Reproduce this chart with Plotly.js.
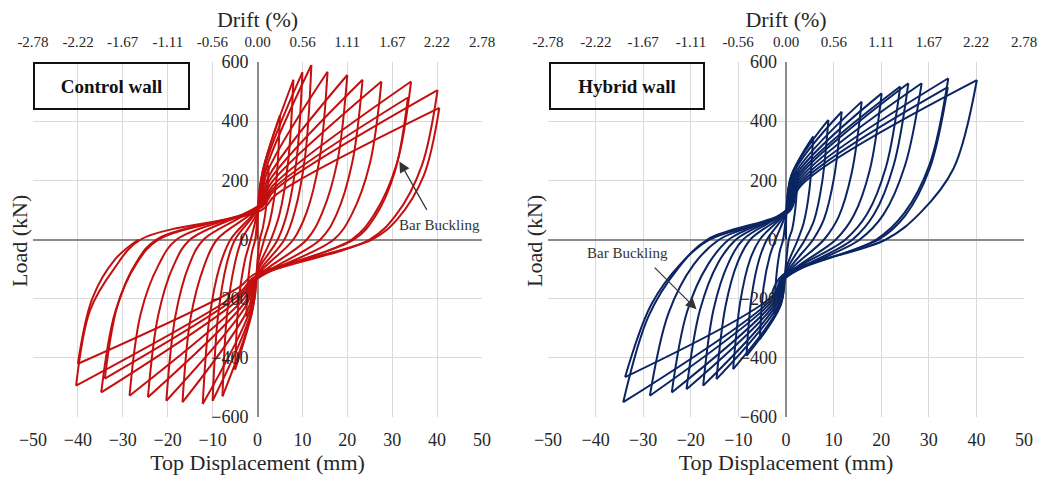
<!DOCTYPE html>
<html><head><meta charset="utf-8">
<script src="https://cdn.plot.ly/plotly-3.0.1.min.js"></script>
<style>html,body{margin:0;padding:0;background:#fff}</style>
</head><body><div id="chart" style="width:1041px;height:478px"></div>
<script>
// ---------- tick labels ----------
const dispTicks = [-50,-40,-30,-20,-10,0,10,20,30,40,50];
const driftTicks = [-2.78,-2.22,-1.67,-1.11,-0.56,0,0.56,1.11,1.67,2.22,2.78];
const driftLabels = ['-2.78','-2.22','-1.67','-1.11','-0.56','0.00','0.56','1.11','1.67','2.22','2.78'];
const loadTicks = [-600,-400,-200,0,200,400,600];

// ---------- Control wall: key points of each cycle [disp (mm), load (kN)] ----------
const ctrlPosPeak = [[2.5,250],[5,420],[8,540],[10,565],[12,590],[15.6,567],[20,556],[23.4,540],[27.6,534],[34.2,534],[33.5,480],[40.1,505],[40.5,445]];
const ctrlPosUnloadA = [[2.0,120],[4.2,200],[6.8,260],[8.7,270],[10.6,280],[13.8,270],[17.8,265],[21.1,260],[25,255],[31,255],[30.6,230],[36.6,250],[37,215]];
const ctrlPosUnloadB = [[1.2,40],[2.8,65],[4.9,85],[6.6,90],[8.3,95],[10.9,90],[14.4,90],[17.6,85],[21,85],[26,85],[26.1,75],[30.9,84],[31.2,70]];
const ctrlPosZero = [0.5,1.5,3,4.5,6,8,11,14,17,21,21.5,25,25.5];
const ctrlNegPeak = [[-2.5,-260],[-5,-440],[-7.8,-530],[-10,-545],[-12.2,-556],[-16.7,-550],[-20.3,-545],[-24.4,-533],[-28.5,-528],[-34.8,-517],[-34,-470],[-40.4,-494],[-40,-420]];
const ctrlNegUnloadA = [[-2.0,-125],[-4.2,-210],[-6.8,-255],[-8.8,-260],[-10.7,-265],[-14.9,-265],[-18.3,-260],[-22.1,-255],[-26,-250],[-31.7,-245],[-31.2,-225],[-37.3,-240],[-36.8,-200]];
const ctrlNegUnloadB = [[-1.2,-40],[-2.8,-70],[-5.1,-85],[-6.9,-85],[-8.4,-90],[-11.9,-90],[-15.2,-85],[-18.6,-85],[-22,-85],[-26.9,-80],[-26.9,-75],[-32,-100],[-31.6,-65]];
const ctrlNegZero = [-0.5,-1.5,-3.5,-5,-6,-9,-12,-15,-18,-22,-22.5,-26,-26.5];
const ctrlPinchPos = [[0,60],[0,80],[0,95],[0.2,100],[0.3,110],[0.4,115],[0.5,115],[0.6,120],[0.7,120],[0.8,115],[0.8,110],[1,110],[1,100]];
const ctrlPinchNeg = [[0,-70],[0,-90],[0,-105],[-0.2,-115],[-0.3,-125],[-0.4,-130],[-0.5,-135],[-0.6,-140],[-0.7,-140],[-0.8,-135],[-0.8,-130],[-1,-130],[-1,-120]];
const ctrlKneePos = [[0.8,200],[1,220],[1.3,240],[1.5,240],[1.8,235],[2.1,225],[2.4,210],[2.7,200],[3,190],[3.3,180],[3.4,170],[3.7,165],[4,150]];
const ctrlKneeNeg = [[-0.8,-210],[-1,-230],[-1.3,-250],[-1.5,-250],[-1.8,-245],[-2.1,-235],[-2.4,-220],[-2.7,-210],[-3,-200],[-3.3,-190],[-3.4,-180],[-3.7,-175],[-4,-160]];

// ---------- Hybrid wall ----------
const hybPosPeak = [[2.5,230],[5.7,348],[8.9,404],[11.7,432],[15.9,466],[20.1,494],[24,517],[25.7,528],[28.5,528],[34.1,545],[34,515],[40.1,539]];
const hybPosUnloadA = [[2.0,110],[4.9,165],[7.6,195],[10.1,210],[13.8,225],[17.6,235],[21,245],[22.6,250],[25,250],[30.2,255],[30.2,240],[35.2,240]];
const hybPosUnloadB = [[1.3,35],[3.7,55],[5.9,65],[8,70],[11,75],[14.2,80],[17,85],[18.5,85],[20.5,85],[24.8,88],[25,80],[28.2,90]];
const hybPosZero = [0.6,2.5,4,5.7,8,10.5,12.5,14,15.5,19,19.5,21];
const hybNegPeak = [[-2.5,-250],[-5.5,-337],[-8.3,-393],[-11.1,-438],[-14.6,-472],[-17.4,-494],[-20.9,-506],[-24,-517],[-28.6,-528],[-34.2,-550],[-33.8,-465]];
const hybNegUnloadA = [[-2.0,-120],[-4.7,-160],[-7.2,-190],[-9.6,-210],[-12.7,-225],[-15.2,-235],[-18.1,-240],[-20.8,-245],[-24.7,-250],[-28.9,-260],[-28.3,-220]];
const hybNegUnloadB = [[-1.3,-40],[-3.4,-55],[-5.6,-65],[-7.6,-70],[-10.1,-75],[-12.1,-80],[-14.3,-80],[-16.4,-85],[-19.4,-85],[-22.8,-100],[-22,-80]];
const hybNegZero = [-0.6,-2.2,-4,-5.5,-7.5,-9,-10.5,-12,-14,-16.5,-16];
const hybPinchPos = [[0,60],[0,80],[0,90],[0.1,95],[0.2,100],[0.3,100],[0.4,105],[0.4,105],[0.5,105],[0.6,100],[0.6,100],[0.7,95]];
const hybPinchNeg = [[0,-80],[0,-100],[0,-110],[-0.1,-120],[-0.2,-125],[-0.3,-130],[-0.4,-130],[-0.4,-135],[-0.5,-135],[-0.6,-130],[-0.6,-125],[-0.7,-120]];
const hybKneePos = [[0.8,190],[1,210],[1.2,220],[1.4,220],[1.6,215],[1.8,210],[2,205],[2.2,200],[2.4,195],[2.6,190],[2.8,185],[3,180]];
const hybKneeNeg = [[-0.8,-200],[-1,-215],[-1.2,-225],[-1.4,-225],[-1.6,-220],[-1.8,-215],[-2,-210],[-2.2,-205],[-2.4,-200],[-2.6,-195],[-2.8,-190],[-3,-185]];

// ---------- build hysteresis path (segments split at peaks) ----------
function buildPath(d) {
  const xs = [], ys = [];
  const seg = pts => { pts.forEach(p => { xs.push(p[0]); ys.push(p[1]); }); xs.push(null); ys.push(null); };
  const n = d.posPeak.length;
  for (let i = 0; i < n; i++) {
    if (i === 0) seg([[0,0], d.kneePos[0], d.posPeak[0]]);
    else seg([d.negPeak[i-1], d.negUA[i-1], d.negUB[i-1], [d.negZero[i-1],0], d.pinchPos[i], d.kneePos[i], d.posPeak[i]]);
    const b = [d.posPeak[i], d.posUA[i], d.posUB[i], [d.posZero[i],0], d.pinchNeg[i], d.kneeNeg[i]];
    if (i < d.negPeak.length) b.push(d.negPeak[i]);
    seg(b);
  }
  if (d.negPeak.length === n) {
    const k = n - 1;
    seg([d.negPeak[k], d.negUA[k], d.negUB[k], [d.negZero[k],0]]);
  }
  return {x: xs, y: ys};
}

const ctrl = buildPath({posPeak: ctrlPosPeak, posUA: ctrlPosUnloadA, posUB: ctrlPosUnloadB, posZero: ctrlPosZero,
  negPeak: ctrlNegPeak, negUA: ctrlNegUnloadA, negUB: ctrlNegUnloadB, negZero: ctrlNegZero,
  pinchPos: ctrlPinchPos, pinchNeg: ctrlPinchNeg, kneePos: ctrlKneePos, kneeNeg: ctrlKneeNeg});
const hyb = buildPath({posPeak: hybPosPeak, posUA: hybPosUnloadA, posUB: hybPosUnloadB, posZero: hybPosZero,
  negPeak: hybNegPeak, negUA: hybNegUnloadA, negUB: hybNegUnloadB, negZero: hybNegZero,
  pinchPos: hybPinchPos, pinchNeg: hybPinchNeg, kneePos: hybKneePos, kneeNeg: hybKneeNeg});

const W = 1041, H = 478;
const FONT = 'Liberation Serif, Times New Roman, serif';
const TXT = '#262626';
const domL = [33/W, 482/W], domR = [548/W, 1024/W];
const domY = [1 - 417/H, 1 - 62/H];
const midPos = dom => dom[0] + 0.5*(dom[1]-dom[0]);

const traces = [
  {type:'scatter', mode:'lines', x: ctrl.x, y: ctrl.y, xaxis:'x', yaxis:'y', connectgaps:false,
   line:{color:'#C40F0F', width:2, shape:'spline', smoothing:1}, hoverinfo:'skip', showlegend:false},
  {type:'scatter', mode:'lines', x: hyb.x, y: hyb.y, xaxis:'x3', yaxis:'y2', connectgaps:false,
   line:{color:'#0B2463', width:2, shape:'spline', smoothing:1}, hoverinfo:'skip', showlegend:false},
  {type:'scatter', mode:'lines', x:[], y:[], xaxis:'x2', yaxis:'y', showlegend:false, hoverinfo:'skip'},
  {type:'scatter', mode:'lines', x:[], y:[], xaxis:'x4', yaxis:'y2', showlegend:false, hoverinfo:'skip'}
];

function bottomAxis(dom, anchor) {
  return {domain: dom, anchor: anchor, range:[-50,50], tickvals: dispTicks, ticks:'', showline:false,
    showgrid:true, gridcolor:'#d9d9d9', gridwidth:1, zeroline:true, zerolinecolor:'#8c8c8c', zerolinewidth:2,
    tickfont:{family:FONT, size:18, color:TXT}, ticklabelstandoff:10, automargin:false, fixedrange:true,
    title:{text:'Top Displacement (mm)', font:{family:FONT, size:22, color:TXT}, standoff:0}};
}
function topAxis(over, anchor) {
  return {overlaying: over, anchor: anchor, side:'top', range:[-2.78,2.78], tickvals: driftTicks, ticktext: driftLabels,
    ticks:'', showgrid:false, zeroline:false, showline:false, automargin:false, fixedrange:true,
    tickfont:{family:FONT, size:15, color:TXT}, ticklabelstandoff:11,
    title:{text:'Drift (%)', font:{family:FONT, size:22, color:TXT}, standoff:0}};
}
function leftAxis(dom) {
  return {domain: domY, anchor:'free', position: midPos(dom), range:[-600,600], tickvals: loadTicks, ticks:'',
    showgrid:true, gridcolor:'#d9d9d9', gridwidth:1, zeroline:true, zerolinecolor:'#8c8c8c', zerolinewidth:2,
    showline:false, tickfont:{family:FONT, size:18, color:TXT}, ticklabelstandoff:9, automargin:false, fixedrange:true};
}

const annotations = [
  {xref:'paper', yref:'paper', x:20/W, y:1-241/H, text:'Load (kN)', textangle:-90, showarrow:false,
   xanchor:'center', yanchor:'middle', font:{family:FONT, size:22, color:TXT}},
  {xref:'paper', yref:'paper', x:535/W, y:1-241/H, text:'Load (kN)', textangle:-90, showarrow:false,
   xanchor:'center', yanchor:'middle', font:{family:FONT, size:22, color:TXT}},
  {xref:'paper', yref:'paper', x:111.5/W, y:1-86/H, text:'<b>Control wall</b>', showarrow:false,
   xanchor:'center', yanchor:'middle', width:151, height:42, borderpad:1, bordercolor:'#111', borderwidth:2,
   font:{family:FONT, size:19, color:'#111'}},
  {xref:'paper', yref:'paper', x:627/W, y:1-86/H, text:'<b>Hybrid wall</b>', showarrow:false,
   xanchor:'center', yanchor:'middle', width:150, height:42, borderpad:1, bordercolor:'#111', borderwidth:2,
   font:{family:FONT, size:19, color:'#111'}},
  {xref:'x', yref:'y', x:40.5, y:50, text:'Bar Buckling', showarrow:false, xanchor:'center', yanchor:'middle',
   font:{family:FONT, size:15, color:'#333'}},
  {xref:'x', yref:'y', axref:'x', ayref:'y', x:31.6, y:264, ax:37.9, ay:95, text:'', showarrow:true,
   arrowhead:2, arrowsize:1.8, arrowwidth:1.2, arrowcolor:'#333'},
  {xref:'x3', yref:'y2', x:-33.2, y:-47, text:'Bar Buckling', showarrow:false, xanchor:'center', yanchor:'middle',
   font:{family:FONT, size:15, color:'#333'}},
  {xref:'x3', yref:'y2', axref:'x3', ayref:'y2', x:-18.8, y:-236, ax:-27.9, ay:-90, text:'', showarrow:true,
   arrowhead:2, arrowsize:1.8, arrowwidth:1.2, arrowcolor:'#333'}
];

const layout = {
  width:W, height:H, margin:{l:0,r:0,t:0,b:0}, paper_bgcolor:'#fff', plot_bgcolor:'rgba(0,0,0,0)',
  showlegend:false, font:{family:FONT, color:TXT},
  xaxis: bottomAxis(domL, 'y'), xaxis2: topAxis('x', 'y'),
  xaxis3: bottomAxis(domR, 'y2'), xaxis4: topAxis('x3', 'y2'),
  yaxis: leftAxis(domL), yaxis2: leftAxis(domR),
  annotations: annotations
};

Plotly.newPlot('chart', traces, layout, {staticPlot:true, displayModeBar:false});
</script></body></html>
